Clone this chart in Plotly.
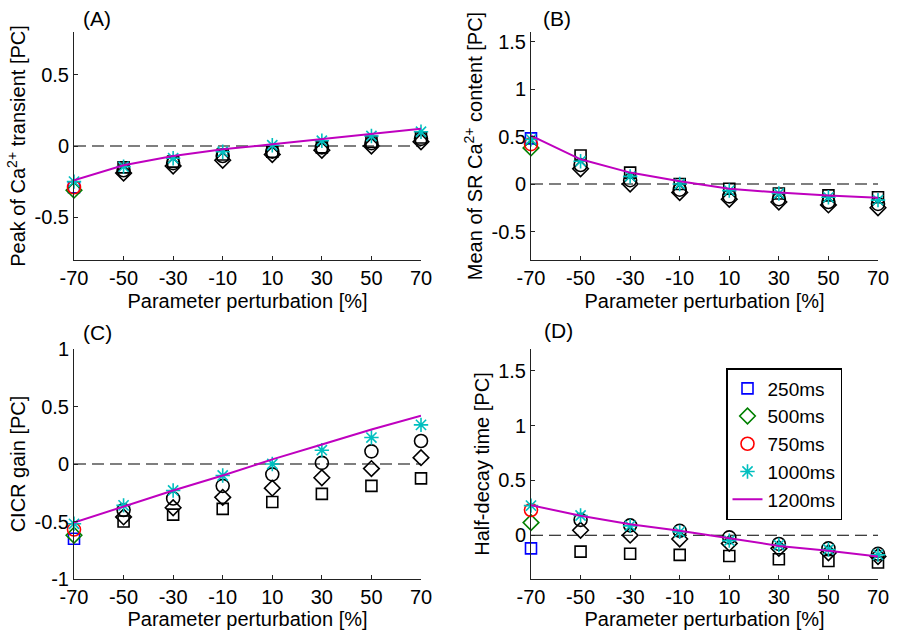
import plotly.graph_objects as go

# ---------------- data ----------------
perturbation = [-70, -50, -30, -10, 10, 30, 50, 70]
series_names = ["250ms", "500ms", "750ms", "1000ms", "1200ms"]

# (A) Peak of Ca2+ transient
A_250 = [-0.29, -0.15, -0.11, -0.06, -0.04, -0.01, 0.03, 0.06]
A_500 = [-0.31, -0.19, -0.14, -0.10, -0.06, -0.03, 0.00, 0.03]
A_750 = [-0.29, -0.17, -0.12, -0.07, -0.04, -0.01, 0.02, 0.05]
A_1000 = [-0.25, -0.145, -0.086, -0.04, 0.005, 0.037, 0.07, 0.10]
A_1200 = [-0.24, -0.135, -0.07, -0.023, 0.012, 0.05, 0.087, 0.122]

# (B) Mean of SR Ca2+ content
B_250 = [0.48, 0.30, 0.12, 0.00, -0.05, -0.10, -0.12, -0.14]
B_500 = [0.38, 0.16, 0.00, -0.09, -0.16, -0.19, -0.22, -0.25]
B_750 = [0.42, 0.20, 0.04, -0.06, -0.13, -0.16, -0.19, -0.21]
B_1000 = [0.47, 0.24, 0.08, 0.00, -0.07, -0.10, -0.14, -0.17]
B_1200 = [0.51, 0.26, 0.12, 0.03, -0.05, -0.09, -0.12, -0.145]

# (C) CICR gain
C_250 = [-0.65, -0.50, -0.44, -0.39, -0.33, -0.26, -0.19, -0.125]
C_500 = [-0.62, -0.46, -0.38, -0.29, -0.21, -0.12, -0.04, 0.055]
C_750 = [-0.57, -0.40, -0.30, -0.19, -0.09, 0.01, 0.11, 0.20]
C_1000 = [-0.52, -0.36, -0.23, -0.10, 0.00, 0.12, 0.23, 0.34]
C_1200 = [-0.51, -0.37, -0.23, -0.10, 0.04, 0.17, 0.30, 0.42]

# (D) Half-decay time
D_250 = [-0.12, -0.15, -0.17, -0.18, -0.19, -0.22, -0.235, -0.25]
D_500 = [0.115, 0.045, 0.00, -0.035, -0.075, -0.12, -0.16, -0.195]
D_750 = [0.23, 0.14, 0.09, 0.04, -0.02, -0.08, -0.12, -0.17]
D_1000 = [0.27, 0.18, 0.085, 0.03, -0.05, -0.09, -0.13, -0.18]
D_1200 = [0.274, 0.177, 0.10, 0.04, -0.027, -0.098, -0.143, -0.195]

panels = [
    ("(A)", "Peak of Ca<sup>2+</sup> transient [PC]", [A_250, A_500, A_750, A_1000, A_1200],
     [-0.8, 0.8], [-0.5, 0, 0.5], ["-0.5", "0", "0.5"]),
    ("(B)", "Mean of SR Ca<sup>2+</sup> content [PC]", [B_250, B_500, B_750, B_1000, B_1200],
     [-0.8, 1.6], [-0.5, 0, 0.5, 1, 1.5], ["-0.5", "0", "0.5", "1", "1.5"]),
    ("(C)", "CICR gain [PC]", [C_250, C_500, C_750, C_1000, C_1200],
     [-1, 1], [-1, -0.5, 0, 0.5, 1], ["-1", "-0.5", "0", "0.5", "1"]),
    ("(D)", "Half-decay time [PC]", [D_250, D_500, D_750, D_1000, D_1200],
     [-0.4, 1.7], [0, 0.5, 1, 1.5], ["0", "0.5", "1", "1.5"]),
]

# ---------------- style ----------------
W, H = 898, 630
FONT = "Liberation Sans, Arial, sans-serif"
FS = 20
base_colors = ["#0000ff", "#008000", "#ff0000", "#00bfbf"]
symbols = ["square-open", "diamond-open", "circle-open", "asterisk-open"]
msizes = [11, 12, 13, 12]
LINE_COLOR = "#bf00bf"

# pixel boxes for each panel: (left, right, top, bottom)
boxes = [(74, 421, 32, 260), (531, 878, 32, 260), (74, 421, 349, 579), (531, 878, 349, 579)]
label_pos = [(97, 18), (557, 18), (97, 332), (558, 330)]

fig = go.Figure()

for i, (lab, ytitle, data, yr, tv, tt) in enumerate(panels):
    n = i + 1
    xa = "x" if n == 1 else f"x{n}"
    ya = "y" if n == 1 else f"y{n}"
    # zero reference line
    fig.add_shape(type="line", xref=xa, yref=ya, x0=perturbation[0], x1=perturbation[-1],
                  y0=0, y1=0, line=dict(color="black", width=1.1, dash="12px,6px"), layer="below")
    for k in range(4):
        rest = "#000000" if k < 3 else base_colors[k]
        cols = [base_colors[k]] + [rest] * (len(perturbation) - 1)
        fig.add_trace(go.Scatter(
            x=perturbation, y=data[k], mode="markers", name=series_names[k],
            xaxis=xa, yaxis=ya, showlegend=(n == 4),
            cliponaxis=False,
            marker=dict(symbol=symbols[k], size=msizes[k], color=cols,
                        line=dict(width=1.6, color=cols)),
        ))
    fig.add_trace(go.Scatter(
        x=perturbation, y=data[4], mode="lines", name=series_names[4],
        xaxis=xa, yaxis=ya, showlegend=(n == 4),
        cliponaxis=False, line=dict(color=LINE_COLOR, width=2),
    ))

    l, r, t, b = boxes[i]
    axis_common = dict(showline=True, linecolor="#222222", linewidth=1, ticks="inside",
                       ticklen=4, tickcolor="#222222", showgrid=False, zeroline=False,
                       mirror=False, automargin=False,
                       tickfont=dict(family=FONT, size=FS, color="black"))
    fig.update_layout(**{
        ("xaxis" if n == 1 else f"xaxis{n}"): dict(
            domain=[l / W, r / W], anchor=ya, range=[-70, 70],
            tickvals=perturbation, ticktext=[str(v) for v in perturbation],
            title=dict(text="Parameter perturbation [%]", font=dict(family=FONT, size=FS, color="black"), standoff=5),
            **axis_common),
        ("yaxis" if n == 1 else f"yaxis{n}"): dict(
            domain=[1 - b / H, 1 - t / H], anchor=xa, range=yr,
            tickvals=tv, ticktext=tt,
            title=dict(text=ytitle, font=dict(family=FONT, size=FS, color="black"), standoff=3),
            **axis_common),
    })
    fig.add_annotation(text=lab, x=label_pos[i][0] / W, y=1 - label_pos[i][1] / H,
                       xref="paper", yref="paper", showarrow=False,
                       font=dict(family=FONT, size=FS + 1, color="black"),
                       xanchor="center", yanchor="middle")

fig.update_layout(
    width=W, height=H, autosize=False,
    margin=dict(l=0, r=0, t=0, b=0),
    paper_bgcolor="white", plot_bgcolor="white",
    font=dict(family=FONT, size=FS, color="black"),
    legend=dict(x=726 / W, y=1 - 368 / H, xanchor="left", yanchor="top",
                bgcolor="white", bordercolor="black", borderwidth=1.5,
                font=dict(family=FONT, size=FS - 1, color="black"),
                tracegroupgap=0, itemwidth=30),
    showlegend=True,
)

fig.write_html("out.html")
